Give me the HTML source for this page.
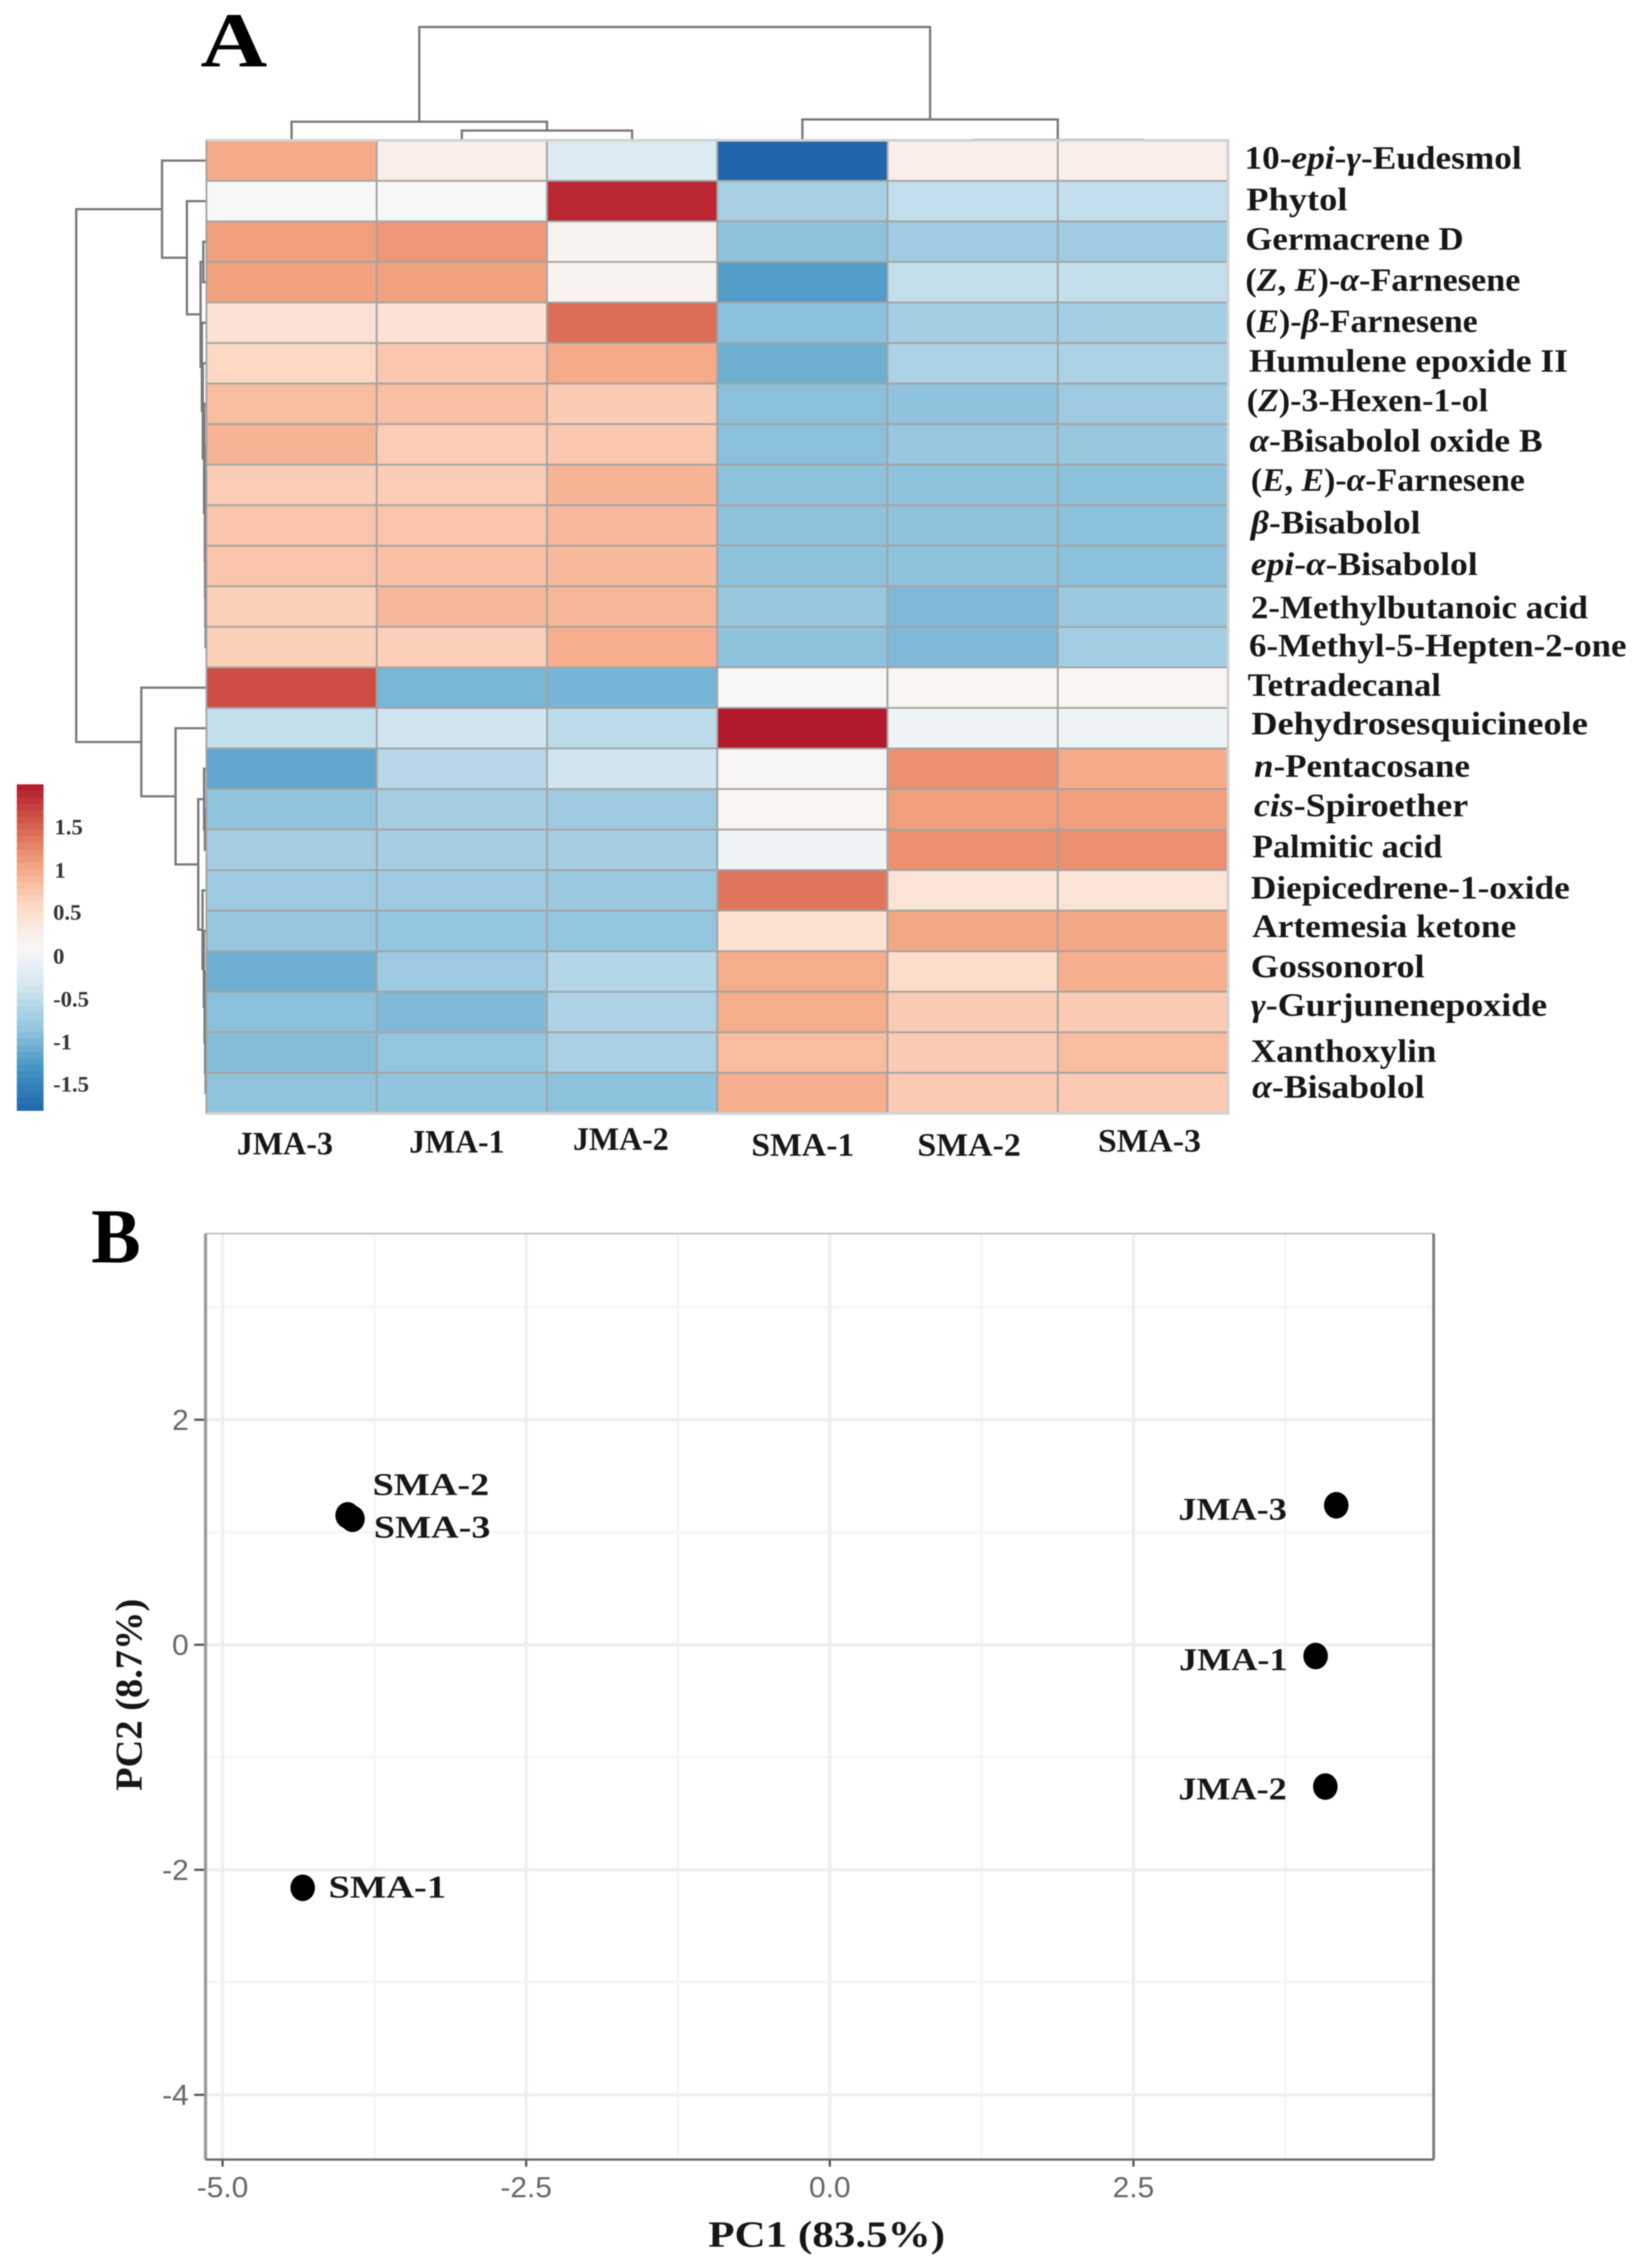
<!DOCTYPE html>
<html lang="en">
<head>
<meta charset="utf-8">
<title>Heatmap and PCA of volatile compounds</title>
<style>
  html, body { margin: 0; padding: 0; background: #fff; width: 100vw; height: 100vh; overflow: hidden; }
  #figure { display: block; position: absolute; left: 0; top: 0; width: 100vw; height: 100vh; filter: blur(1.2px); }
  text { font-family: "Liberation Serif", serif; fill: #161616; }
  .rl, .cl { font-size: 74px; font-weight: bold; }
  .lg { font-size: 50px; font-weight: bold; fill: #333; }
  .tick { font-family: "Liberation Sans", sans-serif; font-size: 66px; fill: #666; }
  .pl { font-size: 72px; font-weight: bold; }
  .at { font-size: 84px; font-weight: bold; }
  .panel { font-size: 176px; font-weight: bold; fill: #000; }
</style>
</head>
<body>
<svg id="figure" xmlns="http://www.w3.org/2000/svg" viewBox="0 0 3628 5124" preserveAspectRatio="none">
  <rect width="3628" height="5124" fill="#fff"/>

  <text class="panel" x="442" y="150" textLength="147" lengthAdjust="spacingAndGlyphs">A</text>
  <text class="panel" x="201" y="2852" textLength="109" lengthAdjust="spacingAndGlyphs">B</text>

  <g id="col-dendro"></g>
  <g id="row-dendro"></g>
  <g id="heat"></g>
  <g id="legend"></g>

  <g>
    <text class="lg" x="120" y="1885">1.5</text>
    <text class="lg" x="120" y="1983">1</text>
    <text class="lg" x="117" y="2078">0.5</text>
    <text class="lg" x="117" y="2177">0</text>
    <text class="lg" x="117" y="2274">-0.5</text>
    <text class="lg" x="117" y="2371">-1</text>
    <text class="lg" x="117" y="2466">-1.5</text>
  </g>

  <g>
    <text class="cl" x="522" y="2608" textLength="212" lengthAdjust="spacingAndGlyphs">JMA-3</text>
    <text class="cl" x="902" y="2604" textLength="210" lengthAdjust="spacingAndGlyphs">JMA-1</text>
    <text class="cl" x="1263" y="2598" textLength="211" lengthAdjust="spacingAndGlyphs">JMA-2</text>
    <text class="cl" x="1656" y="2611" textLength="227" lengthAdjust="spacingAndGlyphs">SMA-1</text>
    <text class="cl" x="2022" y="2611" textLength="228" lengthAdjust="spacingAndGlyphs">SMA-2</text>
    <text class="cl" x="2420" y="2602" textLength="227" lengthAdjust="spacingAndGlyphs">SMA-3</text>
  </g>

  <g>
    <text class="rl" x="2743" y="381" textLength="611" lengthAdjust="spacingAndGlyphs">10-<tspan font-style="italic">epi</tspan>-<tspan font-style="italic">γ</tspan>-Eudesmol</text>
    <text class="rl" x="2747" y="475" textLength="223" lengthAdjust="spacingAndGlyphs">Phytol</text>
    <text class="rl" x="2745" y="564" textLength="481" lengthAdjust="spacingAndGlyphs">Germacrene D</text>
    <text class="rl" x="2745" y="657" textLength="606" lengthAdjust="spacingAndGlyphs">(<tspan font-style="italic">Z</tspan>, <tspan font-style="italic">E</tspan>)-<tspan font-style="italic">α</tspan>-Farnesene</text>
    <text class="rl" x="2745" y="750" textLength="512" lengthAdjust="spacingAndGlyphs">(<tspan font-style="italic">E</tspan>)-<tspan font-style="italic">β</tspan>-Farnesene</text>
    <text class="rl" x="2753" y="840" textLength="703" lengthAdjust="spacingAndGlyphs">Humulene epoxide II</text>
    <text class="rl" x="2748" y="929" textLength="532" lengthAdjust="spacingAndGlyphs">(<tspan font-style="italic">Z</tspan>)-3-Hexen-1-ol</text>
    <text class="rl" x="2754" y="1020" textLength="646" lengthAdjust="spacingAndGlyphs"><tspan font-style="italic">α</tspan>-Bisabolol oxide B</text>
    <text class="rl" x="2757" y="1109" textLength="604" lengthAdjust="spacingAndGlyphs">(<tspan font-style="italic">E</tspan>, <tspan font-style="italic">E</tspan>)-<tspan font-style="italic">α</tspan>-Farnesene</text>
    <text class="rl" x="2757" y="1205" textLength="374" lengthAdjust="spacingAndGlyphs"><tspan font-style="italic">β</tspan>-Bisabolol</text>
    <text class="rl" x="2757" y="1299" textLength="500" lengthAdjust="spacingAndGlyphs"><tspan font-style="italic">epi</tspan>-<tspan font-style="italic">α</tspan>-Bisabolol</text>
    <text class="rl" x="2757" y="1397" textLength="743" lengthAdjust="spacingAndGlyphs">2-Methylbutanoic acid</text>
    <text class="rl" x="2753" y="1483" textLength="832" lengthAdjust="spacingAndGlyphs">6-Methyl-5-Hepten-2-one</text>
    <text class="rl" x="2750" y="1572" textLength="426" lengthAdjust="spacingAndGlyphs">Tetradecanal</text>
    <text class="rl" x="2758" y="1659" textLength="742" lengthAdjust="spacingAndGlyphs">Dehydrosesquicineole</text>
    <text class="rl" x="2764" y="1755" textLength="476" lengthAdjust="spacingAndGlyphs"><tspan font-style="italic">n</tspan>-Pentacosane</text>
    <text class="rl" x="2764" y="1844" textLength="472" lengthAdjust="spacingAndGlyphs"><tspan font-style="italic">cis</tspan>-Spiroether</text>
    <text class="rl" x="2760" y="1937" textLength="419" lengthAdjust="spacingAndGlyphs">Palmitic acid</text>
    <text class="rl" x="2757" y="2030" textLength="703" lengthAdjust="spacingAndGlyphs">Diepicedrene-1-oxide</text>
    <text class="rl" x="2760" y="2117" textLength="582" lengthAdjust="spacingAndGlyphs">Artemesia ketone</text>
    <text class="rl" x="2757" y="2208" textLength="383" lengthAdjust="spacingAndGlyphs">Gossonorol</text>
    <text class="rl" x="2757" y="2295" textLength="653" lengthAdjust="spacingAndGlyphs"><tspan font-style="italic">γ</tspan>-Gurjunenepoxide</text>
    <text class="rl" x="2757" y="2399" textLength="409" lengthAdjust="spacingAndGlyphs">Xanthoxylin</text>
    <text class="rl" x="2760" y="2480" textLength="380" lengthAdjust="spacingAndGlyphs"><tspan font-style="italic">α</tspan>-Bisabolol</text>
  </g>

  <g id="pca"></g>

  <text class="at" x="1561" y="5076" textLength="522" lengthAdjust="spacingAndGlyphs">PC1 (83.5%)</text>
  <text class="at" transform="translate(312,4046) rotate(-90)" x="0" y="0" textLength="434" lengthAdjust="spacingAndGlyphs">PC2 (8.7%)</text>
</svg>

<script>
// ---------- Heatmap data (z-scores) ----------
const sampleColumns = ['JMA-3', 'JMA-1', 'JMA-2', 'SMA-1', 'SMA-2', 'SMA-3'];
const heatJMA3 = [1.0, 0.1, 1.1, 1.07, 0.45, 0.6, 0.85, 0.92, 0.7, 0.78, 0.78, 0.67, 0.68, 1.65, -0.47, -1.15, -0.86, -0.71, -0.77, -0.82, -1.07, -0.89, -0.93, -0.86];
const heatJMA1 = [0.25, 0.1, 1.15, 1.07, 0.45, 0.75, 0.82, 0.7, 0.7, 0.78, 0.82, 0.9, 0.68, -1.0, -0.37, -0.57, -0.71, -0.71, -0.77, -0.83, -0.77, -0.96, -0.85, -0.86];
const heatJMA2 = [-0.24, 1.9, 0.18, 0.17, 1.43, 1.0, 0.72, 0.74, 0.92, 0.88, 0.87, 0.9, 0.97, -1.01, -0.54, -0.37, -0.77, -0.71, -0.79, -0.84, -0.6, -0.65, -0.68, -0.88];
const heatSMA1 = [-1.8, -0.69, -0.87, -1.24, -0.89, -1.07, -0.9, -0.9, -0.87, -0.87, -0.87, -0.82, -0.87, 0.1, 2.0, 0.13, 0.14, 0.0, 1.38, 0.46, 0.98, 0.98, 0.85, 0.97];
const heatSMA2 = [0.25, -0.49, -0.75, -0.47, -0.72, -0.66, -0.87, -0.81, -0.87, -0.87, -0.87, -0.96, -0.96, 0.14, -0.01, 1.2, 1.1, 1.2, 0.42, 1.03, 0.55, 0.72, 0.72, 0.72];
const heatSMA3 = [0.25, -0.49, -0.75, -0.47, -0.72, -0.66, -0.77, -0.81, -0.89, -0.89, -0.89, -0.79, -0.73, 0.14, -0.01, 1.0, 1.1, 1.2, 0.42, 1.03, 0.97, 0.72, 0.85, 0.72];
const heatSeries = [heatJMA3, heatJMA1, heatJMA2, heatSMA1, heatSMA2, heatSMA3];

// Clustering trees: [merge height (0..1), left, right]; a number is a leaf index.
const columnTree = [1, [0.164, 0, [0.086, 1, 2]], [0.184, 3, [0.004, 4, 5]]];
const rowTree = [1,
  [0.341, 0, [0.15, 1, [0.045, [0.024, 2, 3],
    [0.035, 4, [0.028, 5, [0.018, 6, [0.012, [0.008, 7, 8], [0.01, 9, [0.008, 10, [0.006, 11, 12]]]]]]]]]],
  [0.5, 13, [0.237, 14, [0.063, [0.018, 15, [0.012, 16, 17]],
    [0.03, 18, [0.02, 19, [0.014, 20, [0.01, 21, [0.006, 22, 23]]]]]]]]
];

// ---------- PCA data ----------
const pcaSamples = ['SMA-2', 'SMA-3', 'SMA-1', 'JMA-3', 'JMA-1', 'JMA-2'];
const pc1Values = [-3.97, -3.93, -4.34, 4.17, 4.0, 4.08];
const pc2Values = [1.15, 1.12, -2.16, 1.24, -0.10, -1.26];
const pc1Ticks = [-5, -2.5, 0, 2.5];
const pc2Ticks = [2, 0, -2, -4];
const pc1MinorTicks = [-3.75, -1.25, 1.25, 3.75];
const pc2MinorTicks = [3, 1, -1, -3];

// ---------- Colour scale ----------
const colorAnchors = ['#2166AC', '#4393C3', '#92C5DE', '#D1E5F0', '#F7F7F7', '#FDDBC7', '#F4A582', '#D6604D', '#B2182B'];
const colorMin = -1.8;
const colorMax = 2.0;
function colorFor(v) {
  const t = Math.max(0, Math.min(1, (v - colorMin) / (colorMax - colorMin))) * (colorAnchors.length - 1);
  const i = Math.min(colorAnchors.length - 2, Math.floor(t));
  const f = t - i;
  const a = colorAnchors[i], b = colorAnchors[i + 1];
  const ch = function (s, p) { return parseInt(s.substr(p, 2), 16); };
  const mix = function (p) { return Math.round(ch(a, p) + (ch(b, p) - ch(a, p)) * f); };
  return 'rgb(' + mix(1) + ',' + mix(3) + ',' + mix(5) + ')';
}

// ---------- Axis functions ----------
function heatX(i) { return 455 + i * 375.3; }
function heatY(j) { return 317 + j * 91.6; }
function colDendroY(h) { return 317 - h * 256; }
function rowDendroX(h) { return 455 - h * 287; }
function legendY(v) { return 2160 - v * 194; }
function pcaX(v) { return 1829 + v * 267.7; }
function pcaY(v) { return 3716 - v * 254.2; }

const NS = 'http://www.w3.org/2000/svg';
function make(tag, attrs, parent) {
  const node = document.createElementNS(NS, tag);
  Object.keys(attrs).forEach(function (k) { node.setAttribute(k, attrs[k]); });
  parent.appendChild(node);
  return node;
}

// ---------- Heat cells ----------
const heatGroup = document.getElementById('heat');
heatSeries.forEach(function (series, c) {
  series.forEach(function (value, r) {
    const cell = make('rect', {
      x: heatX(c), y: heatY(r), width: heatX(c + 1) - heatX(c), height: heatY(r + 1) - heatY(r),
      fill: colorFor(value), stroke: '#a3a3a3', 'stroke-width': 4
    }, heatGroup);
    
    
  });
});
const heatFrame = make('path', {
  d: 'M' + heatX(0) + ' ' + heatY(0) + 'H' + heatX(6) + 'V' + heatY(24) + 'H' + heatX(0),
  fill: 'none', stroke: '#d2d2d2', 'stroke-width': 6
}, heatGroup);



// ---------- Dendrograms ----------
function nodeInfo(node, leafPos) {
  if (typeof node === 'number') return { pos: leafPos(node), h: 0 };
  const a = nodeInfo(node[1], leafPos), b = nodeInfo(node[2], leafPos);
  return { pos: (a.pos + b.pos) / 2, h: node[0], a: a, b: b };
}
function drawTree(info, horizontalLeaves, group, prefix, idx) {
  if (info.h === 0) return idx;
  let d;
  if (horizontalLeaves) {
    const y = colDendroY(info.h);
    d = 'M' + info.a.pos + ' ' + colDendroY(info.a.h) + 'V' + y + 'H' + info.b.pos + 'V' + colDendroY(info.b.h);
  } else {
    const x = rowDendroX(info.h);
    d = 'M' + rowDendroX(info.a.h) + ' ' + info.a.pos + 'H' + x + 'V' + info.b.pos + 'H' + rowDendroX(info.b.h);
  }
  const branch = make('path', { d: d, fill: 'none', stroke: '#777', 'stroke-width': 5 }, group);
  
  
  idx = drawTree(info.a, horizontalLeaves, group, prefix, idx + 1);
  return drawTree(info.b, horizontalLeaves, group, prefix, idx);
}
drawTree(nodeInfo(columnTree, function (i) { return heatX(i + 0.5); }), true, document.getElementById('col-dendro'), 'column', 0);
drawTree(nodeInfo(rowTree, function (i) { return heatY(i + 0.5); }), false, document.getElementById('row-dendro'), 'row', 0);

// ---------- Legend ----------
const legendGroup = document.getElementById('legend');
const legendSteps = 50;
for (let s = 0; s < legendSteps; s++) {
  const hi = colorMax - (colorMax - colorMin) * s / legendSteps;
  const lo = colorMax - (colorMax - colorMin) * (s + 1) / legendSteps;
  const band = make('rect', {
    x: 37, y: legendY(hi), width: 59, height: legendY(lo) - legendY(hi) + 0.6, fill: colorFor((hi + lo) / 2)
  }, legendGroup);
  
  
}

// ---------- PCA plot ----------
const pca = document.getElementById('pca');
const plotLeft = 453, plotRight = 3160, plotTop = 2787, plotBottom = 4879;

pc1MinorTicks.forEach(function (v, i) {
  const g = make('line', { x1: pcaX(v), x2: pcaX(v), y1: plotTop, y2: plotBottom, stroke: '#f5f5f5', 'stroke-width': 5 }, pca);
  
  
});
pc2MinorTicks.forEach(function (v, i) {
  const g = make('line', { x1: plotLeft, x2: plotRight, y1: pcaY(v), y2: pcaY(v), stroke: '#f5f5f5', 'stroke-width': 5 }, pca);
  
  
});
pc1Ticks.forEach(function (v, i) {
  const g = make('line', { x1: pcaX(v), x2: pcaX(v), y1: plotTop, y2: plotBottom, stroke: '#efefef', 'stroke-width': 7 }, pca);
  
  
  const t = make('line', { x1: pcaX(v), x2: pcaX(v), y1: plotBottom, y2: plotBottom + 16, stroke: '#555', 'stroke-width': 5 }, pca);
  
  
  const label = make('text', { class: 'tick', x: pcaX(v), y: 4964, 'text-anchor': 'middle' }, pca);
  label.textContent = v.toFixed(1);
  
  
});
pc2Ticks.forEach(function (v, i) {
  const g = make('line', { x1: plotLeft, x2: plotRight, y1: pcaY(v), y2: pcaY(v), stroke: '#efefef', 'stroke-width': 7 }, pca);
  
  
  const t = make('line', { x1: plotLeft - 25, x2: plotLeft, y1: pcaY(v), y2: pcaY(v), stroke: '#555', 'stroke-width': 5 }, pca);
  
  
  const label = make('text', { class: 'tick', x: 416, y: pcaY(v) + 23, 'text-anchor': 'end' }, pca);
  label.textContent = String(v);
  
  
});

const borderTop = make('line', { x1: plotLeft, x2: plotRight, y1: plotTop, y2: plotTop, stroke: '#c4c4c4', 'stroke-width': 4 }, pca);


const borderLeft = make('line', { x1: plotLeft, x2: plotLeft, y1: plotTop, y2: plotBottom, stroke: '#999', 'stroke-width': 7 }, pca);


const borderRight = make('line', { x1: plotRight, x2: plotRight, y1: plotTop, y2: plotBottom, stroke: '#777', 'stroke-width': 6 }, pca);


const borderBottom = make('line', { x1: plotLeft, x2: plotRight, y1: plotBottom, y2: plotBottom, stroke: '#666', 'stroke-width': 5 }, pca);



function drawPoints() {
  // Label placement relative to each point: [anchor-side dx, baseline dy, width].
  const nudge = {
    'SMA-2': [55, -46, 257], 'SMA-3': [47, 43, 257], 'SMA-1': [57, 22, 259],
    'JMA-3': [-348, 33, 239], 'JMA-1': [-301, 32, 239], 'JMA-2': [-324, 29, 239]
  };
  pcaSamples.forEach(function (name, i) {
    const cx = pcaX(pc1Values[i]), cy = pcaY(pc2Values[i]);
    const dot = make('ellipse', { cx: cx, cy: cy, rx: 27, ry: 30, fill: '#000' }, pca);
    
    
    const n = nudge[name];
    const label = make('text', {
      class: 'pl', x: cx + n[0], y: cy + n[1], textLength: n[2], lengthAdjust: 'spacingAndGlyphs'
    }, pca);
    label.textContent = name;
    
    
  });
}
drawPoints();
</script>
</body>
</html>
